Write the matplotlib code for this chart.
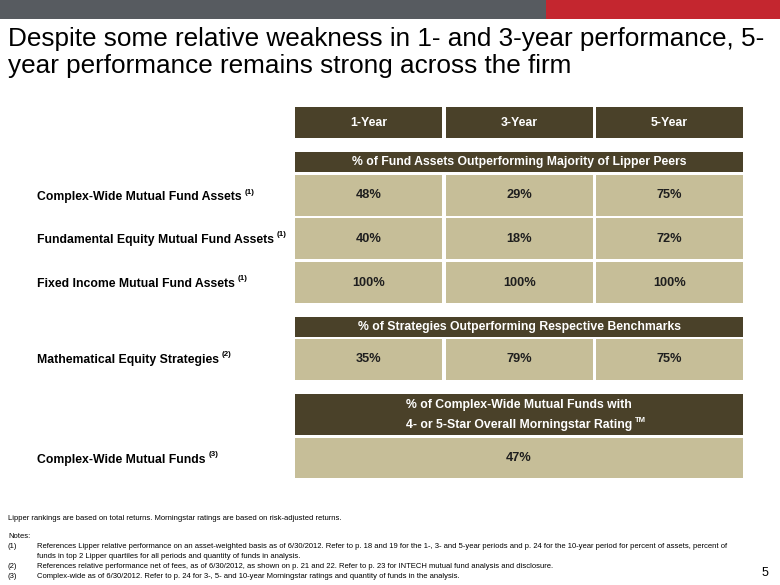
import matplotlib
matplotlib.use("Agg")
from matplotlib import pyplot as plt
from matplotlib.patches import Rectangle

plt.rcParams['font.family'] = ['Liberation Sans', 'DejaVu Sans']

title = ["Despite some relative weakness in 1- and 3-year performance, 5-",
         "year performance remains strong across the firm"]

periods = ["1-Year", "3-Year", "5-Year"]

lipper_header = "% of Fund Assets Outperforming Majority of Lipper Peers"
lipper_rows = ["Complex-Wide Mutual Fund Assets", "Fundamental Equity Mutual Fund Assets",
               "Fixed Income Mutual Fund Assets"]
lipper_notes = ["(1)", "(1)", "(1)"]
lipper_vals = [["48%", "29%", "75%"],
               ["40%", "18%", "72%"],
               ["100%", "100%", "100%"]]

bench_header = "% of Strategies Outperforming Respective Benchmarks"
bench_row = "Mathematical Equity Strategies"
bench_note = "(2)"
bench_vals = ["35%", "79%", "75%"]

star_header = ["% of Complex-Wide Mutual Funds with", "4- or 5-Star Overall Morningstar Rating"]
star_row = "Complex-Wide Mutual Funds"
star_note = "(3)"
star_val = "47%"

footnote = "Lipper rankings are based on total returns. Morningstar ratings are based on risk-adjusted returns."
notes = [("(1)", "References Lipper relative performance on an asset-weighted basis as of 6/30/2012. Refer to p. 18 and 19 for the 1-, 3- and 5-year periods and p. 24 for the 10-year period for percent of assets, percent of\nfunds in top 2 Lipper quartiles for all periods and quantity of funds in analysis."),
         ("(2)", "References relative performance net of fees, as of 6/30/2012, as shown on p. 21 and 22. Refer to p. 23 for INTECH mutual fund analysis and disclosure."),
         ("(3)", "Complex-wide as of 6/30/2012. Refer to p. 24 for 3-, 5- and 10-year Morningstar ratings and quantity of funds in the analysis.")]

dark = "#4a4129"
light = "#c6be98"

fig = plt.figure(figsize=(7.8, 5.85), dpi=100)
ax = fig.add_axes([0, 0, 1, 1])
ax.set_xlim(0, 780)
ax.set_ylim(585, 0)
ax.axis("off")

# top banner
ax.add_patch(Rectangle((0, 0), 546, 19, color="#575b60", lw=0))
ax.add_patch(Rectangle((546, 0), 234, 19, color="#c4262f", lw=0))

ax.text(8, 46, title[0], fontsize=18.8, va="baseline", ha="left")
ax.text(8, 73, title[1], fontsize=18.8, va="baseline", ha="left")

col_x = [295, 446, 596]
col_w = 147
full_w = 743 - 295


def cell(x, y, w, h, txt, fc, tc, size=8.8):
    ax.add_patch(Rectangle((x, y), w, h, facecolor=fc, edgecolor="none"))
    if txt:
        ax.text(x + w / 2, y + h / 2, txt, ha="center", va="center", color=tc,
                fontsize=size, fontweight="bold")


def with_note(x, y, txt, note, ha="left", color="black"):
    t = ax.text(x, y, txt, ha=ha, va="center", fontsize=8.8, fontweight="bold", color=color)
    fig.canvas.draw()
    bb = t.get_window_extent()
    ax.text(bb.x1 + 3, y - 5, note, ha="left", va="center", fontsize=5.8,
            fontweight="bold", color=color)


for x, p in zip(col_x, periods):
    cell(x, 107, col_w, 31, p, dark, "white")

cell(295, 152, full_w, 20, lipper_header, dark, "white")
row_tops = [175, 218, 262]
for top, name, nt, vals in zip(row_tops, lipper_rows, lipper_notes, lipper_vals):
    for x, v in zip(col_x, vals):
        cell(x, top, col_w, 41, v, light, "#1e1e1e", size=9.2)
    with_note(37, top + 22, name, nt)

cell(295, 317, full_w, 20, bench_header, dark, "white")
for x, v in zip(col_x, bench_vals):
    cell(x, 339, col_w, 41, v, light, "#1e1e1e", size=9.2)
with_note(37, 360, bench_row, bench_note)

cell(295, 394, full_w, 41, "", dark, "white")
ax.text(519, 405, star_header[0], ha="center", va="center", color="white",
        fontsize=8.8, fontweight="bold")
t2 = ax.text(519, 425, star_header[1], ha="center", va="center", color="white",
             fontsize=8.8, fontweight="bold")
fig.canvas.draw()
ax.text(t2.get_window_extent().x1 + 3, 420, "TM", ha="left", va="center", color="white",
        fontsize=5.5, fontweight="bold")
cell(295, 438, full_w, 40, star_val, light, "#1e1e1e", size=9.2)
with_note(37, 460, star_row, star_note)

# footer
ax.text(8, 518, footnote, fontsize=5.5, va="center", ha="left")
ax.text(8, 537, "Notes:", fontsize=5.5, va="center", ha="left")
ys = [547, 566, 576]
for y, (n, txt) in zip(ys, notes):
    ax.text(8, y, n, fontsize=5.5, va="center", ha="left")
    if "\n" in txt:
        ax.text(37, y - 4, txt, fontsize=5.5, va="top", ha="left", linespacing=1.5)
    else:
        ax.text(37, y, txt, fontsize=5.5, va="center", ha="left")
ax.text(765, 573, "5", fontsize=9, va="center", ha="center")

fig.savefig("out.png", dpi=100)
